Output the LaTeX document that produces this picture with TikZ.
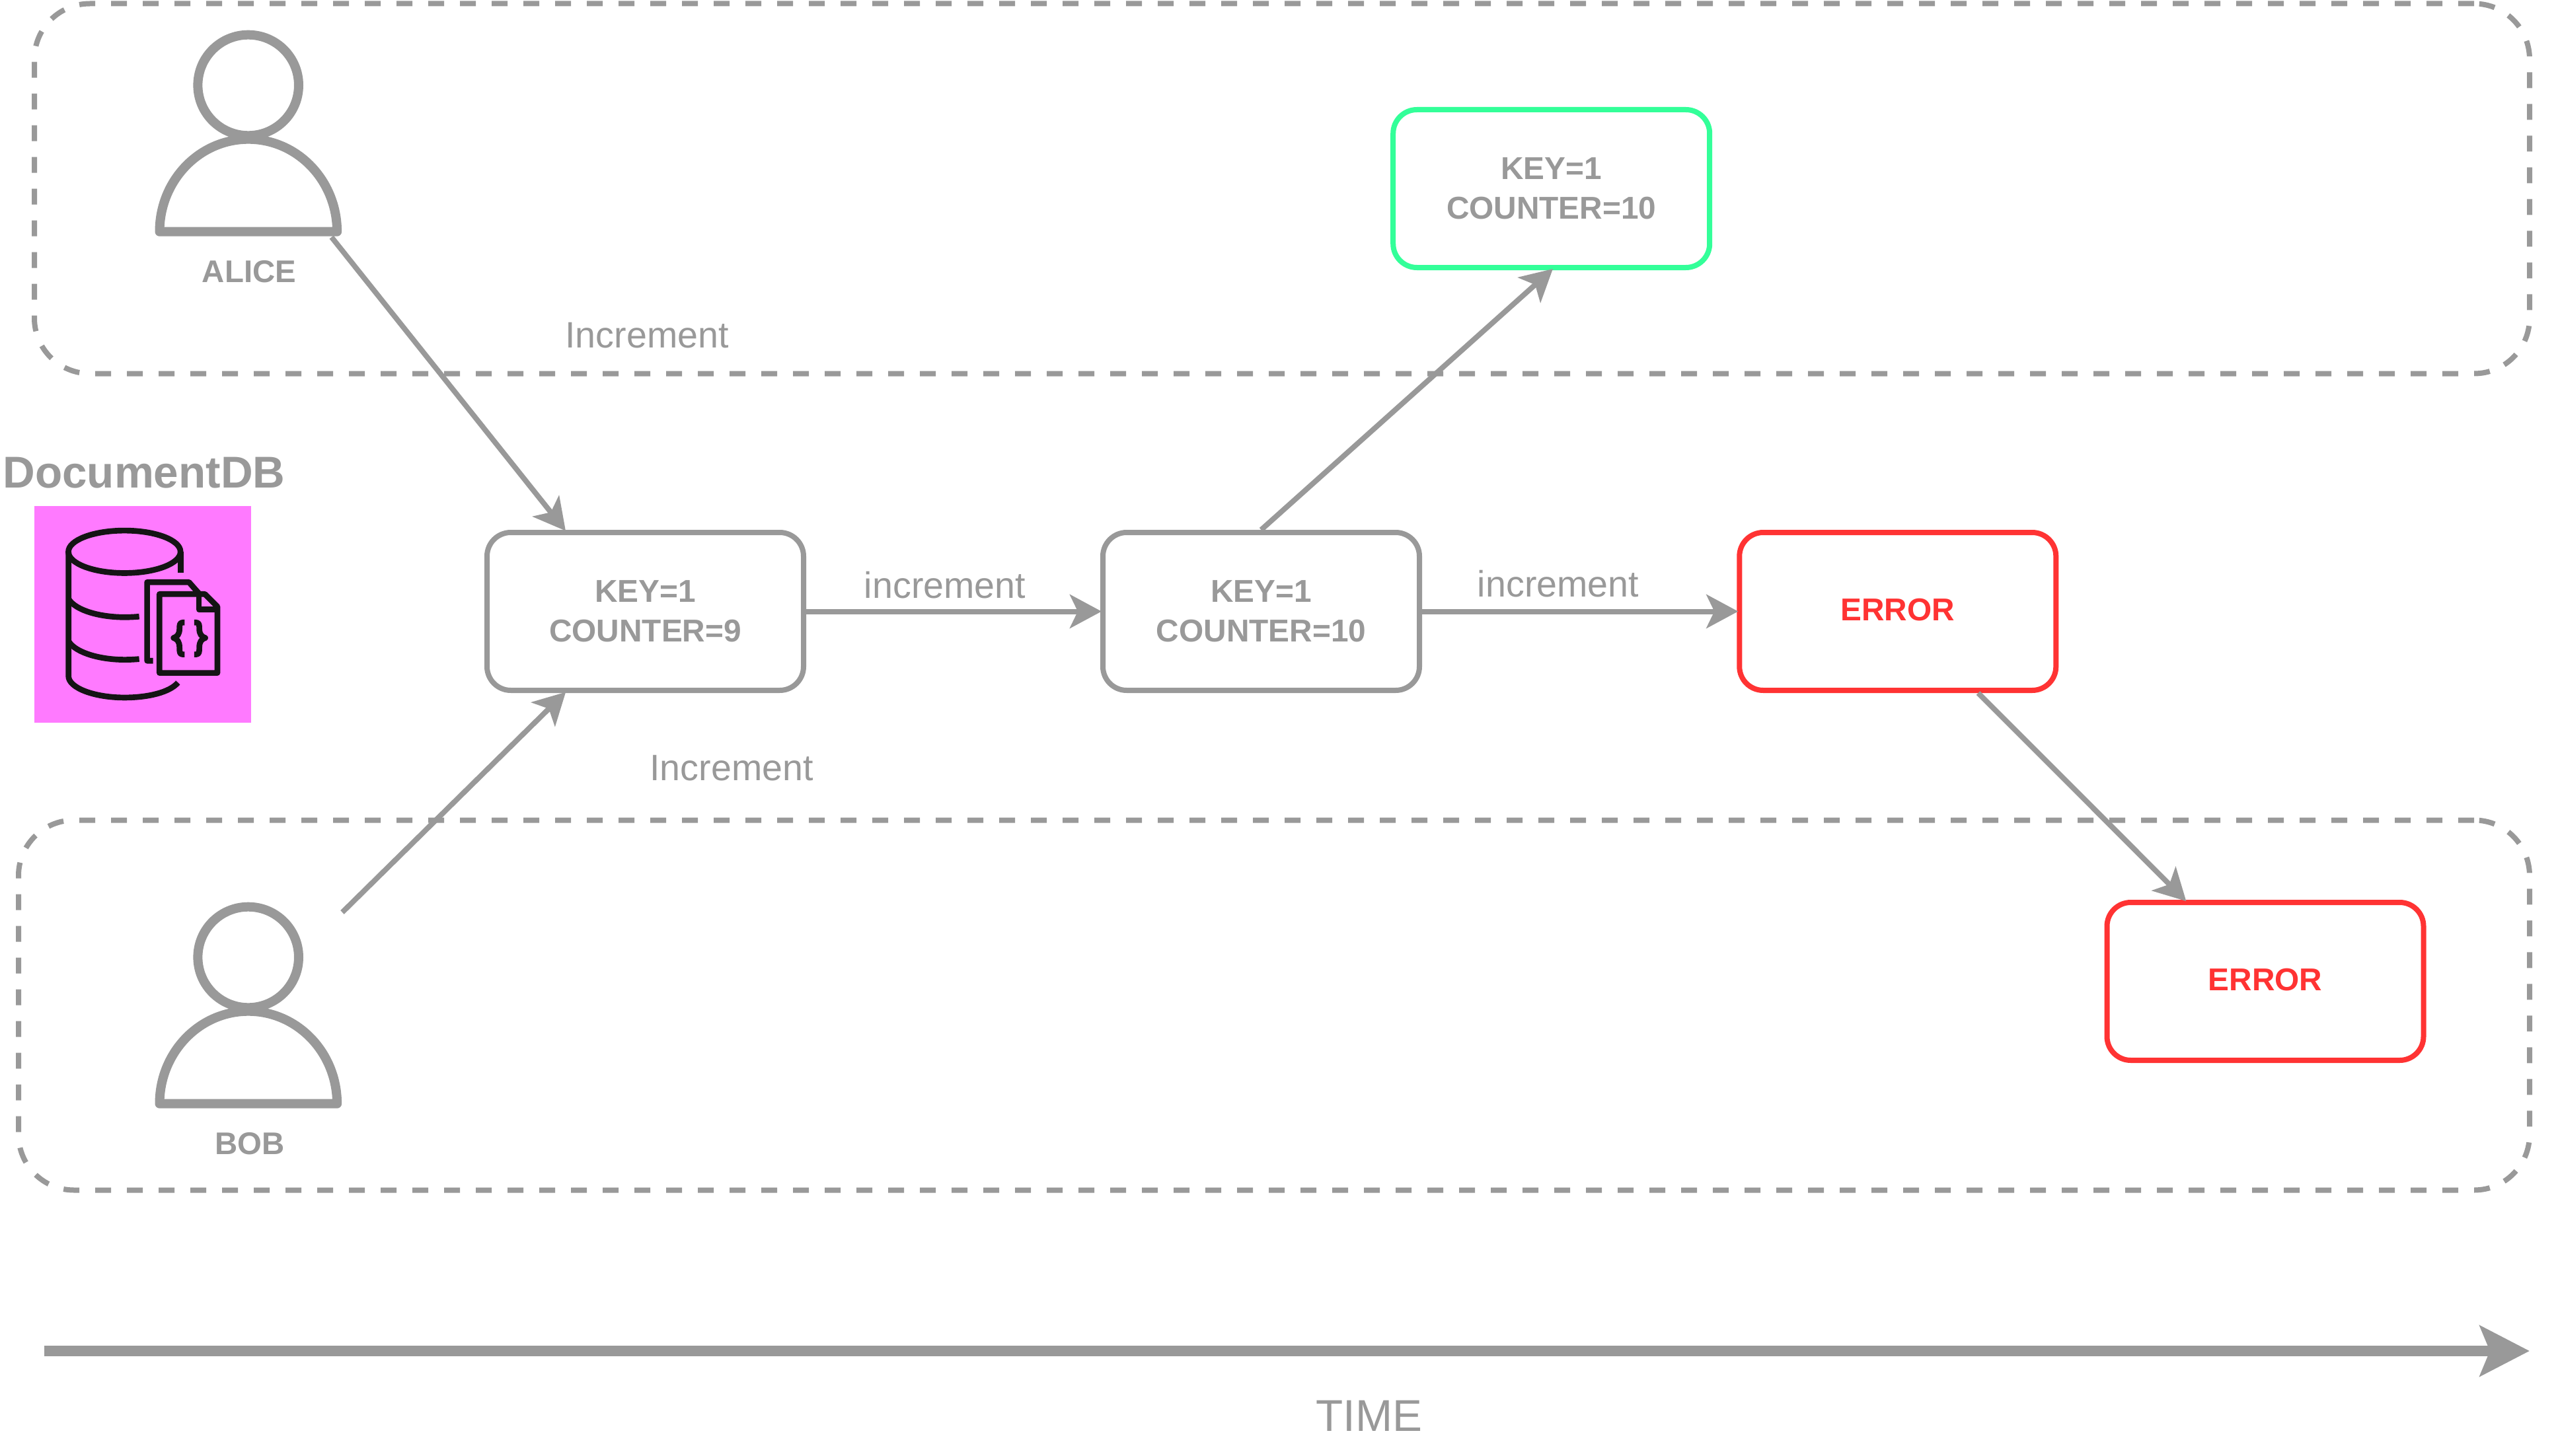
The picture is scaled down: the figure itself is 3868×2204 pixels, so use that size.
\documentclass[tikz,border=0pt]{standalone}
\usepackage{fontspec}
\setmainfont{Liberation Sans}
\usetikzlibrary{arrows.meta,calc}
\definecolor{gr}{HTML}{999999}
\definecolor{okgreen}{HTML}{33FF99}
\definecolor{errred}{HTML}{FF3333}
\definecolor{pink}{HTML}{FF7AFF}
\definecolor{ink}{HTML}{141414}
\tikzset{
  statebox/.style={draw=gr,line width=2pt,rounded corners=9pt,minimum width=119.75pt,minimum height=59.75pt,
    inner sep=0pt,fill=white,align=center,text=gr,font=\fontsize{11.95}{15}\selectfont\bfseries},
  okbox/.style={statebox,draw=okgreen},
  errbox/.style={statebox,draw=errred,text=errred,text depth=1.5pt},
  zone/.style={draw=gr,line width=2pt,dash pattern=on 6pt off 6pt,rounded corners=21pt,inner sep=0pt,minimum height=140pt},
  conn/.style={draw=gr,line width=2pt,shorten >=-0.5pt,-{Stealth[length=12pt,width=12.75pt,inset=3pt]}},
  timearrow/.style={draw=gr,line width=4pt,-{Stealth[length=18.75pt,width=19pt,inset=3.75pt]}},
  person/.style={draw=gr,line width=3.5pt,line join=round},
  label/.style={anchor=base,inner sep=0pt,text=gr,font=\fontsize{13.9}{16}\selectfont},
  who/.style={anchor=base,inner sep=0pt,text=gr,font=\fontsize{11.85}{14}\selectfont\bfseries},
  iconline/.style={draw=ink,line width=2.17pt,line join=round},
}
\begin{document}
\begin{tikzpicture}[x=0.25pt,y=-0.25pt]
\useasboundingbox (0,0) rectangle (3868,2204);
\fill[white] (0,0) rectangle (3868,2204);
% zones
\node[zone,minimum width=944pt] (alicezone) at (1940,285.5) {};
\node[zone,minimum width=950pt] (bobzone) at (1928,1521.5) {};
% database icon
\fill[pink] (52,766) rectangle (380,1094);
\node[anchor=base,inner sep=0pt,text=gr,font=\fontsize{16.85}{20}\selectfont\bfseries] (dbtitle) at (218,738) {DocumentDB};
\begin{scope}[x=0.083333pt,y=-0.083333pt,shift={(0,2040)}]
  \draw[iconline] (565,466) ellipse [x radius=254.5,y radius=96.5];
  \draw[iconline] (311,466) -- (311,1030) .. controls (311,1085) and (430,1128) .. (565,1128) .. controls (670,1128) and (770,1105) .. (808,1060);
  \draw[iconline] (820,466) -- (820,562);
  \draw[iconline] (311,680) .. controls (345,735) and (460,763) .. (565,763) .. controls (590,763) and (610,762) .. (632,760);
  \draw[iconline] (311,872) .. controls (345,927) and (460,956) .. (565,956) .. controls (590,956) and (610,955) .. (632,953);
  \draw[iconline] (695,961) -- (668,961) -- (668,604) -- (858,604) -- (903,655);
  \draw[iconline] (724,658) -- (930,658) -- (987,715) -- (987,1016) -- (724,1016) -- cycle;
  \draw[iconline] (903,658) -- (903,728) -- (987,728);
  \draw[iconline] (838,787) -- (830,787) .. controls (815,787) and (815,800) .. (815,815) .. controls (815,840) and (805,852) .. (788,857) .. controls (805,862) and (815,875) .. (815,900) .. controls (815,920) and (815,932) .. (830,932) -- (838,932);
  \draw[iconline] (882,787) -- (890,787) .. controls (905,787) and (905,800) .. (905,815) .. controls (905,840) and (915,852) .. (932,857) .. controls (915,862) and (905,875) .. (905,900) .. controls (905,920) and (905,932) .. (890,932) -- (882,932);
\end{scope}
% persons
\draw[person] (375.7,129) circle [radius=76.3];
\draw[person] (241.5,350.7) arc [start angle=180,end angle=360,x radius=134.3,y radius=140] -- cycle;
\node[who] (alicelabel) at (377,427) {ALICE};
\draw[person] (375.7,1449) circle [radius=76.3];
\draw[person] (241.5,1670.7) arc [start angle=180,end angle=360,x radius=134.3,y radius=140] -- cycle;
\node[who] (boblabel) at (378,1747) {BOB};
\coordinate (alicefoot) at (501.7,359);
\coordinate (bobfoot) at (518,1381);
% states
\node[statebox] (s9) at (976.5,925.5) {KEY=1\\COUNTER=9};
\node[statebox] (s10) at (1908.5,925.5) {KEY=1\\COUNTER=10};
\node[okbox] (ok) at (2347.7,285.5) {KEY=1\\COUNTER=10};
\node[errbox] (err) at (2871.8,925.5) {ERROR};
\node[errbox] (err2) at (3428,1485.5) {ERROR};
% connectors
\draw[conn] (alicefoot) -- ($(s9.north west)!0.25!(s9.north east)$);
\draw[conn] (bobfoot) -- ($(s9.south west)!0.25!(s9.south east)$);
\draw[conn] (s9.east) -- (s10.west);
\draw[conn] (s10.east) -- (err.west);
\draw[conn,shorten >=-0.75pt] (s10.north) -- (ok.south);
\draw[conn,shorten >=-0.75pt] ($(err.south west)!0.75!(err.south east)$) -- ($(err2.north west)!0.25!(err2.north east)$);
% labels
\node[label] (lab1) at (1430,905) {increment};
\node[label] (lab2) at (2358,903) {increment};
\node[label] (lab3) at (979,527) {Increment};
\node[label] (lab4) at (1107,1181) {Increment};
% time
\coordinate (timestart) at (67,2045);
\coordinate (timeend) at (3828,2045);
\draw[timearrow] (timestart) -- (timeend);
\node[anchor=base,inner sep=0pt,text=gr,font=\fontsize{16.85}{20}\selectfont] (timelabel) at (2072,2166) {TIME};
\end{tikzpicture}
\end{document}
